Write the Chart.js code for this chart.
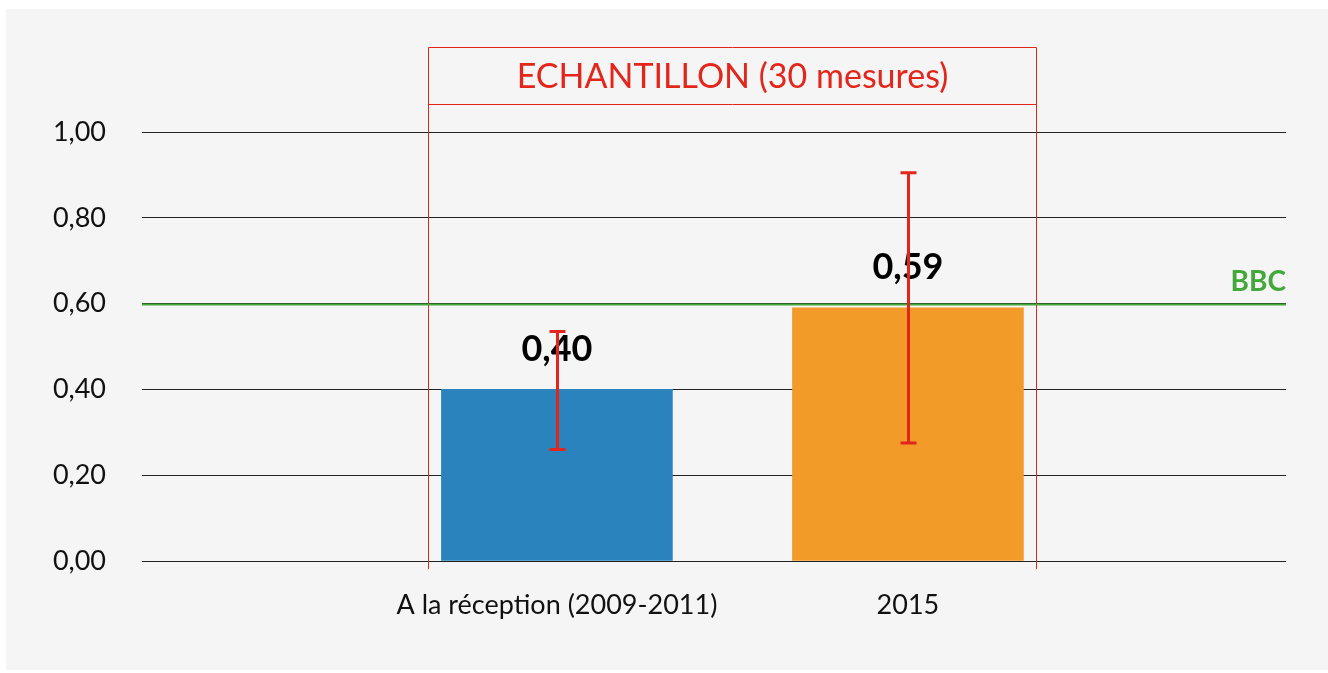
<!DOCTYPE html>
<html>
<head>
<meta charset="utf-8">
<script src="https://cdn.jsdelivr.net/npm/chart.js@4/dist/chart.umd.min.js"></script>
<style>
  html, body { margin: 0; padding: 0; background: #ffffff; }
  #wrap { position: absolute; left: 6px; top: 9px; width: 1322px; height: 661px; background: #f5f5f5; }
  canvas { display: block; }
</style>
</head>
<body>
<div id="wrap"><canvas id="chart" width="1322" height="661"></canvas></div>
<script>
// Chart data
const categories = ["A la réception (2009-2011)", "2015"];
const means = [0.40, 0.59];
const errLow = [0.26, 0.275];
const errHigh = [0.535, 0.905];
const barColors = ['#2b83be', '#f39b29'];
const bbcValue = 0.60;
const yTicks = [0, 0.2, 0.4, 0.6, 0.8, 1.0];
const boxTitle = "ECHANTILLON (30 mesures)";

const FONT = "Lato, 'Source Sans Pro', sans-serif";
const RED = '#e3261b';
const GREEN = '#42a83a';

function fmt(v) {
    return v.toFixed(2).replace('.', ',');
}

// draws BBC line, sample box, error bars and value labels
const extras = {
    id: 'extras',
    beforeDatasetsDraw(chart) {
        const ctx = chart.ctx, x = chart.scales.x, y = chart.scales.y;
        ctx.save();
        // sample box
        const bl = Math.round(x.getPixelForValue(1 - 0.367)) + 0.5;
        const br = Math.round(x.getPixelForValue(2 + 0.365)) + 0.5;
        const bt = Math.round(y.getPixelForValue(1.198)) + 0.5;
        const bh = Math.round(y.getPixelForValue(1.065)) + 0.5;
        const bb = y.getPixelForValue(-0.019);
        ctx.strokeStyle = RED;
        ctx.lineWidth = 1;
        ctx.beginPath();
        ctx.moveTo(bl, bb);
        ctx.lineTo(bl, bt);
        ctx.lineTo(br, bt);
        ctx.lineTo(br, bb);
        ctx.moveTo(bl, bh);
        ctx.lineTo(br, bh);
        ctx.stroke();
        ctx.fillStyle = RED;
        ctx.font = "34px " + FONT;
        ctx.textAlign = 'center';
        ctx.textBaseline = 'middle';
        ctx.fillText(boxTitle, (bl + br) / 2, (bt + bh) / 2 + 1);
        ctx.restore();
    },
    afterDatasetsDraw(chart) {
        const ctx = chart.ctx, x = chart.scales.x, y = chart.scales.y;
        const area = chart.chartArea;
        ctx.save();
        // BBC line
        const gy = Math.round(y.getPixelForValue(bbcValue)) + 0.5;
        ctx.strokeStyle = GREEN;
        ctx.lineWidth = 2;
        ctx.beginPath();
        ctx.moveTo(area.left, gy);
        ctx.lineTo(area.right, gy);
        ctx.stroke();
        ctx.fillStyle = GREEN;
        ctx.font = "bold 28px " + FONT;
        ctx.textAlign = 'right';
        ctx.textBaseline = 'middle';
        ctx.fillText('BBC', area.right, gy - 23);

        // value labels
        ctx.fillStyle = '#000000';
        ctx.font = "bold 36px " + FONT;
        ctx.textAlign = 'center';
        means.forEach((m, i) => {
            ctx.fillText(fmt(m), x.getPixelForValue(i + 1), y.getPixelForValue(m) - 40);
        });

        // error bars
        ctx.strokeStyle = RED;
        ctx.lineWidth = 3;
        means.forEach((m, i) => {
            const cx = Math.round(x.getPixelForValue(i + 1)) + 0.5;
            const t = y.getPixelForValue(errHigh[i]);
            const b = y.getPixelForValue(errLow[i]);
            ctx.beginPath();
            ctx.moveTo(cx, t);
            ctx.lineTo(cx, b);
            ctx.moveTo(cx - 8, t);
            ctx.lineTo(cx + 8, t);
            ctx.moveTo(cx - 8, b);
            ctx.lineTo(cx + 8, b);
            ctx.stroke();
        });
        ctx.restore();
    }
};

new Chart(document.getElementById('chart'), {
    type: 'bar',
    data: {
        datasets: [{
            data: means.map((m, i) => ({ x: i + 1, y: m })),
            backgroundColor: barColors,
            barThickness: 231,
            borderWidth: 0
        }]
    },
    options: {
        responsive: false,
        animation: false,
        layout: { padding: { top: 123, right: 42, left: 0, bottom: 0 } },
        plugins: { legend: { display: false }, tooltip: { enabled: false } },
        scales: {
            x: {
                type: 'linear',
                min: -0.182,
                max: 3.077,
                offset: false,
                grid: { display: false, drawTicks: false, offset: false },
                border: { display: false },
                afterBuildTicks: s => { s.ticks = categories.map((c, i) => ({ value: i + 1 })); },
                afterFit: s => { s.height = 109; },
                ticks: {
                    padding: 28,
                    color: '#111111',
                    font: { family: FONT, size: 27 },
                    maxRotation: 0,
                    autoSkip: false,
                    callback: v => categories[v - 1]
                }
            },
            y: {
                min: 0,
                max: 1,
                afterBuildTicks: s => { s.ticks = yTicks.map(v => ({ value: v })); },
                afterFit: s => { s.width = 136; },
                grid: { color: '#222222', lineWidth: 1, drawTicks: false },
                border: { display: false },
                ticks: {
                    padding: 36,
                    color: '#111111',
                    font: { family: FONT, size: 27 },
                    callback: v => fmt(v)
                }
            }
        }
    },
    plugins: [extras]
});
</script>
</body>
</html>
